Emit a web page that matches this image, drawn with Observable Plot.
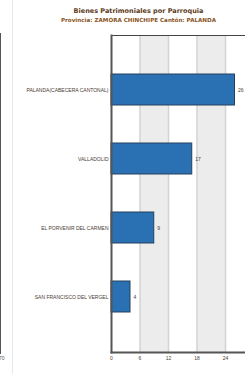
<!DOCTYPE html>
<html><head><meta charset="utf-8">
<script src="https://cdn.jsdelivr.net/npm/d3@7"></script>
<script src="https://cdn.jsdelivr.net/npm/@observablehq/plot@0.6"></script>
<style>
html,body{margin:0;padding:0;background:#fff;overflow:hidden;width:245px;height:374px;}
#wrap{position:relative;width:245px;height:374px;overflow:hidden;font-family:"Liberation Sans",Arial,sans-serif;}
#chart{position:absolute;left:0;top:0;width:270px;}
#chart svg{max-width:none !important;}
.t{position:absolute;left:0;width:277px;text-align:center;font-weight:bold;white-space:nowrap;font-family:"DejaVu Sans",Verdana,sans-serif;line-height:1;}
#title{top:8px;font-size:6.5px;color:#5b3a1a;}
#sub{top:18.2px;font-size:5.6px;color:#8a5426;}
#leftbox{position:absolute;left:-3px;top:33px;width:3px;height:319px;border:1.5px solid #555;border-left:none;}
#leftline{position:absolute;left:11.5px;top:0;width:1.5px;height:374px;background:#e4e8f2;}
#lefttick{position:absolute;left:-1px;top:355px;font-size:5px;color:#555;}
</style></head>
<body><div id="wrap">
<div id="leftline"></div>
<div id="leftbox"></div>
<div id="lefttick">70</div>
<div id="chart"></div>
<div class="t" id="title">Bienes Patrimoniales por Parroquia</div>
<div class="t" id="sub">Provincia: ZAMORA CHINCHIPE Cantón: PALANDA</div>
</div>
<script>
const parroquias = ["PALANDA(CABECERA CANTONAL)", "VALLADOLID", "EL PORVENIR DEL CARMEN", "SAN FRANCISCO DEL VERGEL"];
const bienes = [26, 17, 9, 4];
const xTicks = [0, 6, 12, 18, 24, 30];

const data = parroquias.map((p, i) => ({parroquia: p, valor: bienes[i]}));
const bands = [];
for (let i = 1; i + 1 < xTicks.length; i += 2) bands.push({x1: xTicks[i], x2: xTicks[i + 1]});

const chart = Plot.plot({
  width: 270, height: 374,
  marginLeft: 111, marginRight: 16.5, marginTop: 35, marginBottom: 22,
  style: {fontFamily: "'Liberation Sans', Arial, sans-serif", fontSize: "5px", color: "#4a3b33", background: "transparent", maxWidth: "none"},
  x: {domain: [0, 30], ticks: xTicks.slice(0, 5), tickSize: 0, tickPadding: 4, label: null},
  y: {domain: parroquias, padding: 0.55, tickSize: 0, tickPadding: 3, label: null},
  marks: [
    Plot.rect(bands, {x1: "x1", x2: "x2", fill: "#ececec"}),
    Plot.ruleX(xTicks.slice(1), {stroke: "#d4d4d4", strokeWidth: 1.5}),
    Plot.barX(data, {x: "valor", y: "parroquia", fill: "#2a71b3", stroke: "#26405c", strokeWidth: 1}),
    Plot.text(data, {x: "valor", y: "parroquia", text: d => String(d.valor), textAnchor: "start", dx: 3, fill: "#4a3b33", fontSize: 5}),
    Plot.frame({anchor: "top", stroke: "#444", strokeWidth: 1}),
    Plot.frame({anchor: "left", stroke: "#555", strokeWidth: 2}),
    Plot.frame({anchor: "bottom", stroke: "#555", strokeWidth: 2})
  ]
});
document.getElementById("chart").appendChild(chart);
</script>
</body></html>
